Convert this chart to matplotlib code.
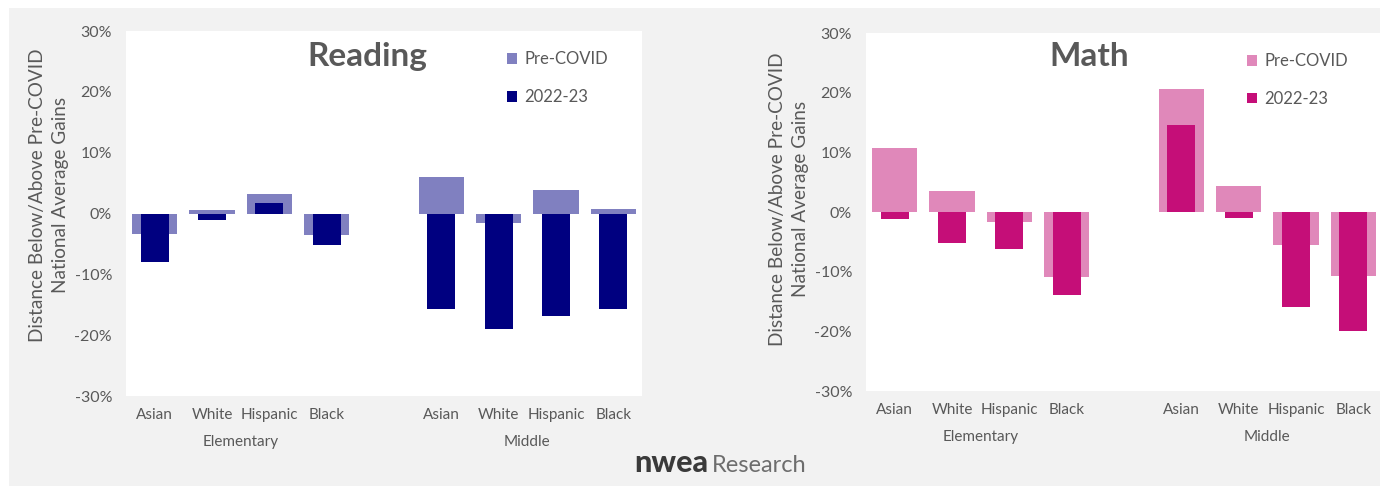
import matplotlib
matplotlib.use("Agg")
import matplotlib.pyplot as plt
from matplotlib.patches import Rectangle
from matplotlib.ticker import PercentFormatter

plt.rcParams['font.family'] = ['Lato', 'DejaVu Sans']
plt.rcParams['axes.unicode_minus'] = False

groups = ['Elementary', 'Middle']
races = ['Asian', 'White', 'Hispanic', 'Black']

reading_pre = [-3.3, 0.5, 3.2, -3.6, 6.0, -1.6, 3.9, 0.7]
reading_2223 = [-8.0, -1.0, 1.8, -5.2, -15.7, -19.0, -16.9, -15.7]
math_pre = [10.7, 3.6, -1.7, -10.9, 20.6, 4.4, -5.6, -10.8]
math_2223 = [-1.2, -5.2, -6.2, -13.9, 14.6, -1.0, -15.9, -19.9]

W, H = 1380, 486
fig = plt.figure(figsize=(W / 100, H / 100), dpi=100)
fig.patch.set_facecolor('white')
# light gray backdrop
fig.add_artist(Rectangle((9 / W, 0), 1, (H - 8) / H, transform=fig.transFigure,
                         facecolor='#f2f2f2', edgecolor='none', zorder=-10))

TXT = '#595959'

# positions: groups separated by an empty slot
xpos = []
for g in range(len(groups)):
    for i in range(len(races)):
        xpos.append(g * (len(races) + 1) + i)


def panel(rect, title, title_xy, leg_x, ylab_y, pre, cur, c_pre, c_cur):
    ax = fig.add_axes(rect)
    ax.set_facecolor('white')
    ax.bar(xpos, pre, width=0.79, color=c_pre, label='Pre-COVID', zorder=2)
    ax.bar(xpos, cur, width=0.49, color=c_cur, label='2022-23', zorder=3)
    ax.set_xlim(-0.5, 8.5)
    ax.set_ylim(-30, 30)
    ax.set_yticks(range(-30, 31, 10))
    ax.yaxis.set_major_formatter(PercentFormatter(decimals=0))
    ax.tick_params(axis='y', length=0, pad=10, labelsize=11.5, labelcolor=TXT)
    ax.set_xticks([])
    for s in ax.spines.values():
        s.set_visible(False)
    for x, r in zip(xpos, races * len(groups)):
        ax.annotate(r, xy=(x, 0), xycoords=('data', 'axes fraction'),
                    xytext=(0, -14), textcoords='offset points',
                    ha='center', va='center', fontsize=11, color=TXT)
    for g, name in enumerate(groups):
        xc = g * (len(races) + 1) + (len(races) - 1) / 2
        ax.annotate(name, xy=(xc, 0), xycoords=('data', 'axes fraction'),
                    xytext=(0, -33), textcoords='offset points',
                    ha='center', va='center', fontsize=11, color=TXT)
    ax.set_ylabel('Distance Below/Above Pre-COVID\nNational Average Gains',
                  fontsize=13.7, color=TXT, labelpad=4, linespacing=1.4)
    ax.yaxis.label.set_y(ylab_y)
    ax.text(title_xy[0], title_xy[1], title, transform=ax.transAxes,
            ha='center', va='center', fontsize=24, fontweight='bold', color=TXT)
    ax.legend(loc='upper left', bbox_to_anchor=(leg_x, 0.985), frameon=False,
              fontsize=12, handlelength=0.6, handleheight=0.6,
              handletextpad=0.4, labelspacing=1.3, labelcolor=TXT)
    return ax


panel([126 / W, (H - 396) / H, 516 / W, 365 / H], 'Reading', (0.467, 0.929), 0.71, 0.551,
      reading_pre, reading_2223, '#8080c0', '#000080')
panel([866 / W, (H - 391) / H, 516 / W, 358 / H], 'Math', (0.432, 0.933), 0.71, 0.536,
      math_pre, math_2223, '#e088ba', '#c50e78')

# footer logo text
fig.text(708 / W, (H - 472) / H, 'nwea', ha='right', va='baseline',
         fontsize=22, fontweight='black', color='#3a3a3a')
fig.text(712 / W, (H - 472) / H, 'Research', ha='left', va='baseline',
         fontsize=17, color='#6d6d6d')

fig.savefig('out.png', dpi=100, facecolor=fig.get_facecolor())
